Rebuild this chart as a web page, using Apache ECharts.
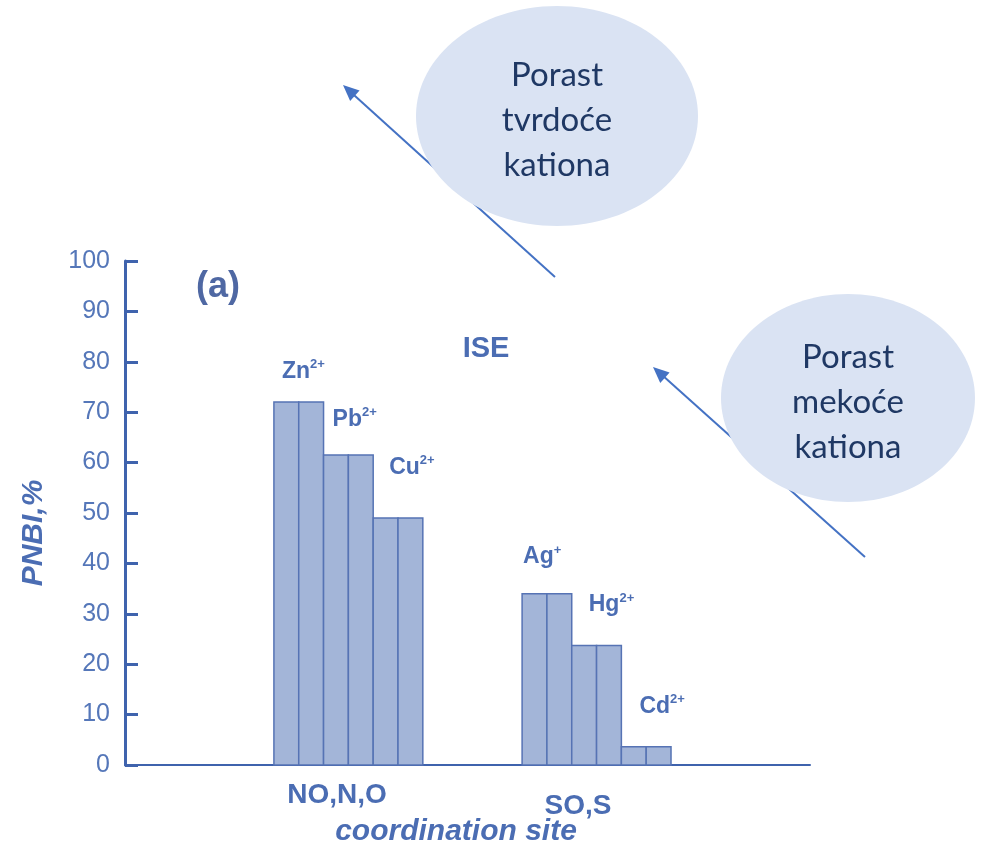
<!DOCTYPE html>
<html>
<head>
<meta charset="utf-8">
<script src="https://cdn.jsdelivr.net/npm/echarts@6/dist/echarts.min.js"></script>
<style>
  html, body { margin: 0; padding: 0; background: #ffffff; }
  #chart { width: 984px; height: 849px; }
</style>
</head>
<body>
<div id="chart"></div>
<script>
// Metal ions, their charges and PNBI values (%)
const ions = ['Zn', 'Pb', 'Cu', 'Ag', 'Hg', 'Cd'];
const charges = ['2+', '2+', '2+', '+', '2+', '2+'];
const pnbi = [72, 61.5, 49, 34, 23.7, 3.6];
// slot of each ion along the coordination-site axis
const slots = [3, 4, 5, 8, 9, 10];
const sites = ['NO,N,O', 'SO,S'];
const yTickStep = 10;

// label placement for each ion, relative to the top-left corner of its bars
const labelShift = [[8, -23], [9, -28], [16, -43], [1, -29], [17, -33], [18, -33]];

const FONT = "'Liberation Sans', Arial, sans-serif";
const TEXT = '#4b6db3';
const AXIS = '#3f63ad';

const chart = echarts.init(document.getElementById('chart'), null, { renderer: 'canvas' });

function renderIonBars(params, api) {
  const i = params.dataIndex;
  const x0 = api.value(0);
  const v = api.value(1);
  const top = api.coord([x0, v]);
  const mid = api.coord([x0 + 0.5, 0]);
  const end = api.coord([x0 + 1, 0]);
  const barStyle = { fill: '#a3b5d8', stroke: '#5673b4', lineWidth: 1.5 };
  const sh = labelShift[i];
  return {
    type: 'group',
    children: [
      { type: 'rect', shape: { x: top[0], y: top[1], width: mid[0] - top[0], height: mid[1] - top[1] }, style: barStyle },
      { type: 'rect', shape: { x: mid[0], y: top[1], width: end[0] - mid[0], height: end[1] - top[1] }, style: barStyle },
      {
        type: 'text',
        x: top[0] + sh[0],
        y: top[1] + sh[1] + 6,
        style: {
          text: '{b|' + ions[i] + '}{s|' + charges[i] + '}',
          align: 'left',
          verticalAlign: 'bottom',
          rich: {
            b: { fontFamily: FONT, fontWeight: 'bold', fontSize: 23, lineHeight: 27, fill: TEXT, color: TEXT },
            s: { fontFamily: FONT, fontWeight: 'bold', fontSize: 13, lineHeight: 12, verticalAlign: 'top', fill: TEXT, color: TEXT }
          }
        }
      }
    ]
  };
}

function arrow(tail, tip, color) {
  const dx = tip[0] - tail[0], dy = tip[1] - tail[1];
  const len = Math.sqrt(dx * dx + dy * dy);
  const ux = dx / len, uy = dy / len;
  const headLen = 16, headHalf = 7;
  const bx = tip[0] - ux * headLen, by = tip[1] - uy * headLen;
  return [
    { type: 'line', shape: { x1: tail[0], y1: tail[1], x2: bx + ux * 2, y2: by + uy * 2 }, style: { stroke: color, lineWidth: 2 }, z: 5 },
    { type: 'polygon', shape: { points: [tip, [bx - uy * headHalf, by + ux * headHalf], [bx + uy * headHalf, by - ux * headHalf]] }, style: { fill: color }, z: 5 }
  ];
}

function bubble(cx, cy, rx, ry, lines, textY) {
  return [
    { type: 'ellipse', shape: { cx: cx, cy: cy, rx: rx, ry: ry }, style: { fill: '#dae3f3' }, z: 10 },
    {
      type: 'text', x: cx, y: textY, z: 11,
      style: { text: lines.join('\n'), align: 'center', verticalAlign: 'middle', font: "33px Lato, 'Open Sans', sans-serif", lineHeight: 45, fill: '#1f3864' }
    }
  ];
}

const option = {
  animation: false,
  backgroundColor: '#ffffff',
  grid: { left: 125, right: 174, top: 261, bottom: 84, containLabel: false },
  xAxis: {
    type: 'value', min: 0, max: 13.8,
    axisLine: { show: true, lineStyle: { color: AXIS, width: 2 } },
    axisTick: { show: false }, axisLabel: { show: false }, splitLine: { show: false }
  },
  yAxis: {
    type: 'value', min: 0, max: 100, interval: yTickStep,
    axisLine: { show: true, lineStyle: { color: AXIS, width: 3 } },
    axisTick: { show: true, inside: true, length: 13, lineStyle: { color: AXIS, width: 3 } },
    axisLabel: { color: '#5577b9', fontSize: 25, fontFamily: FONT, margin: 15 },
    splitLine: { show: false }
  },
  series: [{
    type: 'custom',
    renderItem: renderIonBars,
    data: slots.map((s, i) => [s, pnbi[i]]),
    z: 3
  }],
  graphic: [
    ...arrow([555, 277], [343, 85], '#4472c4'),
    ...arrow([865, 557], [653, 367], '#4472c4'),
    ...bubble(557, 116, 141, 110, ['Porast', 'tvrdoće', 'kationa'], 120),
    ...bubble(848, 398, 127, 104, ['Porast', 'mekoće', 'kationa'], 402),
    { type: 'text', x: 218, y: 287, style: { text: '(a)', align: 'center', verticalAlign: 'middle', font: 'bold 36px ' + FONT, fill: '#4f68a3' } },
    { type: 'text', x: 486, y: 349, style: { text: 'ISE', align: 'center', verticalAlign: 'middle', font: 'bold 29px ' + FONT, fill: TEXT } },
    { type: 'text', x: 34, y: 533, rotation: Math.PI / 2, style: { text: 'PNBI,%', align: 'center', verticalAlign: 'middle', font: 'italic bold 30px ' + FONT, fill: TEXT } },
    { type: 'text', x: 337, y: 795, style: { text: sites[0], align: 'center', verticalAlign: 'middle', font: 'bold 28px ' + FONT, fill: TEXT } },
    { type: 'text', x: 578, y: 806, style: { text: sites[1], align: 'center', verticalAlign: 'middle', font: 'bold 28px ' + FONT, fill: TEXT } },
    { type: 'text', x: 456, y: 832, style: { text: 'coordination site', align: 'center', verticalAlign: 'middle', font: 'italic bold 30px ' + FONT, fill: TEXT } }
  ]
};

chart.setOption(option);
</script>
</body>
</html>
